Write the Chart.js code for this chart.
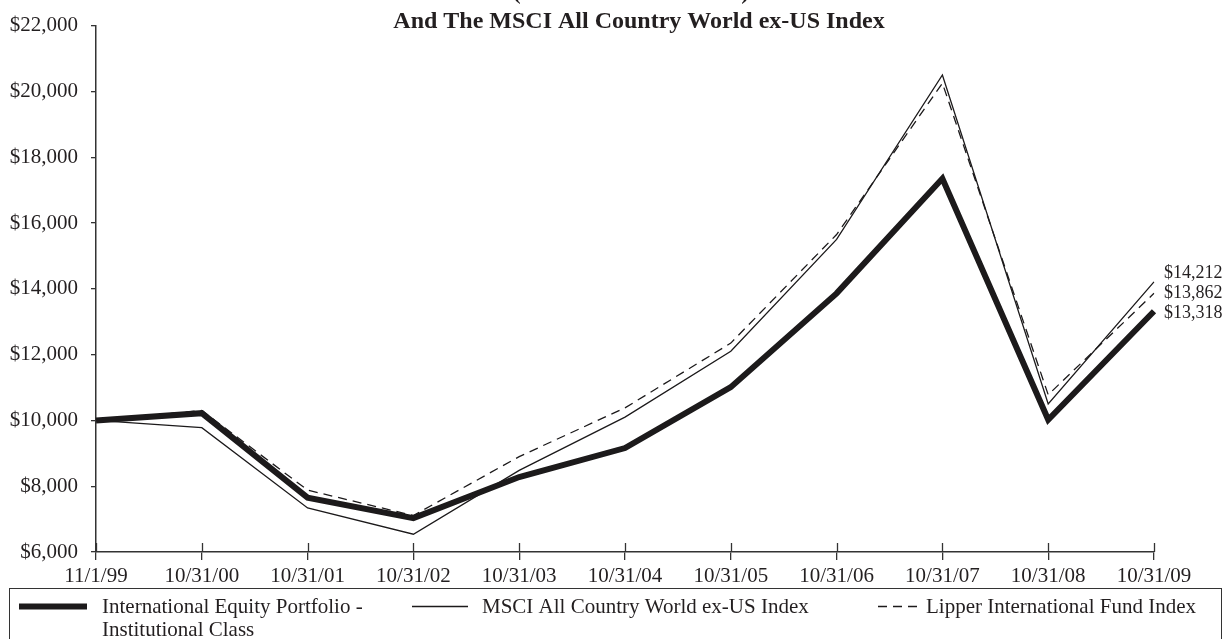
<!DOCTYPE html>
<html>
<head>
<meta charset="utf-8">
<script src="https://cdn.jsdelivr.net/npm/chart.js@4.4.1/dist/chart.umd.min.js"></script>
<style>
  html, body { margin: 0; padding: 0; background: #ffffff; }
  #wrap { width: 1227px; height: 639px; position: relative; }
</style>
</head>
<body>
<div id="wrap"><canvas id="c" width="1227" height="639"></canvas></div>
<script>
// Growth of $10,000 — fiscal year-end values
const dates = ['11/1/99', '10/31/00', '10/31/01', '10/31/02', '10/31/03', '10/31/04',
               '10/31/05', '10/31/06', '10/31/07', '10/31/08', '10/31/09'];
const portfolio = [10000, 10220, 7650, 7030, 8280, 9160, 11010, 13860, 17350, 10020, 13318];
const msci      = [10000, 9780, 7340, 6540, 8480, 10100, 12100, 15500, 20500, 10500, 14212];
const lipper    = [10000, 10300, 7880, 7110, 8900, 10380, 12350, 15650, 20250, 10780, 13862];
const seriesNames = [
  'International Equity Portfolio -\nInstitutional Class',
  'MSCI All Country World ex-US Index',
  'Lipper International Fund Index'
];
const titleLines = ['(Dividends Reinvested)', 'And The MSCI All Country World ex-US Index'];
const yMin = 6000, yMax = 22000, yStep = 2000;

const INK = '#231f20';
const AXIS = '#333333';
const SERIF = '"Liberation Serif", "Times New Roman", Times, serif';

const money = v => '$' + Math.round(v).toLocaleString('en-US');

const decorations = {
  id: 'decorations',
  afterDraw(chart) {
    const ctx = chart.ctx;
    const area = chart.chartArea;
    const xs = chart.scales.x;
    const ys = chart.scales.y;
    ctx.save();

    // inner half of the x-axis tick marks (ticks cross the axis)
    ctx.strokeStyle = AXIS;
    ctx.lineWidth = 1.3;
    xs.ticks.forEach((t, i) => {
      const px = Math.round(xs.getPixelForTick(i)) + 0.5;
      ctx.beginPath();
      ctx.moveTo(px, area.bottom - 9);
      ctx.lineTo(px, area.bottom);
      ctx.stroke();
    });

    // title block (first line sits mostly above the page edge)
    ctx.fillStyle = INK;
    ctx.textAlign = 'center';
    ctx.textBaseline = 'alphabetic';
    ctx.font = 'bold 24px ' + SERIF;
    ctx.fillText(titleLines[0], 631, -1);
    ctx.fillText(titleLines[1], 639, 28);

    // end-of-line value labels
    const sets = chart.data.datasets.map(ds => {
      const v = ds.data[ds.data.length - 1];
      return { v, y: ys.getPixelForValue(v) };
    }).sort((a, b) => a.y - b.y);
    const mid = sets[1].y;
    sets[0].y = Math.min(sets[0].y, mid - 20);
    sets[2].y = Math.max(sets[2].y, mid + 20);
    ctx.font = '18px ' + SERIF;
    ctx.textAlign = 'left';
    ctx.textBaseline = 'middle';
    sets.forEach(s => ctx.fillText(money(s.v), area.right + 10, s.y));

    // legend box
    ctx.strokeStyle = AXIS;
    ctx.lineWidth = 1;
    ctx.strokeRect(9.5, 588.5, 1212, 70);

    const items = [
      { lineX0: 19, lineX1: 87, textX: 102 },
      { lineX0: 412, lineX1: 468, textX: 482 },
      { lineX0: 878, lineX1: 922, textX: 926 }
    ];
    ctx.font = '21px ' + SERIF;
    ctx.textBaseline = 'middle';
    chart.data.datasets.forEach((ds, i) => {
      const it = items[i];
      const ly = 606.5;
      ctx.beginPath();
      ctx.strokeStyle = ds.borderColor;
      ctx.lineWidth = ds.borderWidth;
      ctx.setLineDash(ds.borderDash || []);
      ctx.moveTo(it.lineX0, ly);
      ctx.lineTo(it.lineX1, ly);
      ctx.stroke();
      ctx.setLineDash([]);
      ctx.fillStyle = INK;
      ds.label.split('\n').forEach((line, k) => {
        ctx.fillText(line, it.textX, 607 + k * 23);
      });
    });

    ctx.restore();
  }
};

new Chart(document.getElementById('c'), {
  type: 'line',
  data: {
    labels: dates,
    datasets: [
      { label: seriesNames[0], data: portfolio, borderColor: '#1c1a1b', borderWidth: 6,
        pointRadius: 0, tension: 0, borderJoinStyle: 'miter', fill: false },
      { label: seriesNames[1], data: msci, borderColor: '#1c1a1b', borderWidth: 1.3,
        pointRadius: 0, tension: 0, fill: false },
      { label: seriesNames[2], data: lipper, borderColor: '#1c1a1b', borderWidth: 1.3,
        borderDash: [9, 6], pointRadius: 0, tension: 0, fill: false }
    ]
  },
  options: {
    responsive: false,
    animation: false,
    devicePixelRatio: 1,
    layout: { padding: { left: 0, right: 73, top: 21, bottom: 47 } },
    plugins: { legend: { display: false }, title: { display: false }, tooltip: { enabled: false } },
    scales: {
      x: {
        type: 'category',
        offset: false,
        afterFit: s => { s.height = 40; },
        grid: { display: true, drawOnChartArea: false, drawTicks: true, tickLength: 8,
                color: AXIS, lineWidth: 1.3 },
        border: { display: true, color: AXIS, width: 1.5 },
        ticks: { font: { family: SERIF, size: 21 }, color: INK, padding: 4,
                 maxRotation: 0, autoSkip: false }
      },
      y: {
        min: yMin, max: yMax,
        afterFit: s => { s.width = 96; },
        grid: { display: true, drawOnChartArea: false, drawTicks: true, tickLength: 5,
                color: AXIS, lineWidth: 1.3 },
        border: { display: true, color: AXIS, width: 1.5 },
        ticks: { stepSize: yStep, font: { family: SERIF, size: 21 }, color: INK, padding: 13,
                 callback: v => money(v) }
      }
    }
  },
  plugins: [decorations]
});
</script>
</body>
</html>
